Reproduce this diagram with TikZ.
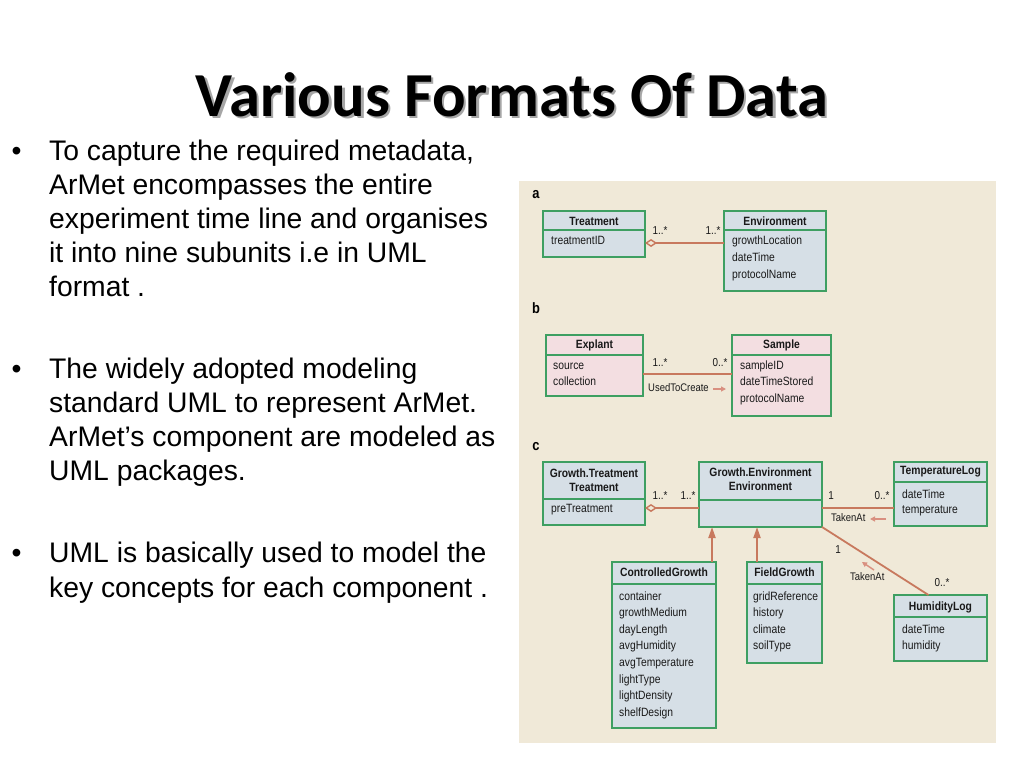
\documentclass[tikz,border=0pt]{standalone}
\usepackage{fontspec}
\setmainfont{Liberation Sans}
\newfontfamily\titlefont{Carlito}
\newfontfamily\dg[FakeStretch=0.86]{Liberation Sans}
\usetikzlibrary{arrows.meta}
\definecolor{bgbeige}{RGB}{240,233,216}
\definecolor{boxblue}{RGB}{214,223,230}
\definecolor{boxpink}{RGB}{243,222,225}
\definecolor{boxgreen}{RGB}{62,159,98}
\definecolor{salmon}{RGB}{200,121,94}
\definecolor{lsalmon}{RGB}{217,144,128}
\definecolor{dtext}{RGB}{25,25,25}
\newcommand{\shadowed}[1]{\makebox[0pt][l]{\hspace{2.5pt}\raisebox{-2.5pt}{\textcolor{black!35}{#1}}}#1}
\tikzset{
  umlbox/.style={draw=boxgreen, line width=1.3pt, inner sep=0pt, outer sep=0pt, anchor=north west},
  divline/.style={draw=boxgreen, line width=1.3pt},
  hdr/.style={font=\dg\bfseries\fontsize{12}{13}\selectfont, inner sep=0pt, text=dtext},
  attr/.style={font=\dg\fontsize{12}{13}\selectfont, inner sep=0pt, anchor=mid west, text=dtext},
  rolelabel/.style={font=\dg\fontsize{11}{13}\selectfont, inner sep=0pt, anchor=mid west, text=dtext},
  mult/.style={font=\dg\fontsize{11.5}{13}\selectfont, inner sep=0pt, text=dtext},
  panel/.style={font=\dg\bfseries\fontsize{15}{16}\selectfont, inner sep=0pt, text=black},
  assoc/.style={draw=salmon, line width=1.8pt},
  aggr/.style={assoc, {Diamond[length=12pt,width=8pt,fill=bgbeige,line width=1.4pt]}-},
  inherit/.style={draw=salmon, line width=2pt, -{Triangle[length=11pt,width=7pt]}},
  dirarrow/.style={draw=lsalmon, line width=1.5pt, -{Triangle[length=5pt,width=5pt]}},
  body/.style={font=\fontsize{28.3}{33.3}\selectfont, inner sep=0pt, anchor=base west, text=black},
}
\begin{document}
\begin{tikzpicture}[x=1pt,y=-1pt]
\useasboundingbox (0,0) rectangle (1024,768);
\fill[white] (0,0) rectangle (1024,768);

% title
\node[font=\titlefont\bfseries\fontsize{62.6}{70}\selectfont, anchor=base, inner sep=0pt] (title) at (512,116) {\shadowed{Various Formats Of Data}};

% bullets
\node[body] (b1) at (11.5,160) {•};
\node[body] (p1a) at (49,160) {To capture the required metadata,};
\node[body] (p1b) at (49,194.2) {ArMet encompasses the entire};
\node[body] (p1c) at (49,228.4) {experiment time line and organises};
\node[body] (p1d) at (49,262.6) {it into nine subunits i.e in UML};
\node[body] (p1e) at (49,296.7) {format .};

\node[body] (b2) at (11.5,378) {•};
\node[body] (p2a) at (49,378) {The widely adopted modeling};
\node[body] (p2b) at (49,412.2) {standard UML to represent ArMet.};
\node[body] (p2c) at (49,446.4) {ArMet’s component are modeled as};
\node[body] (p2d) at (49,480.6) {UML packages.};

\node[body] (b3) at (11.5,562.8) {•};
\node[body] (p3a) at (49,562.8) {UML is basically used to model the};
\node[body] (p3b) at (49,597) {key concepts for each component .};

% diagram background
\fill[bgbeige] (519,181) rectangle (996,743);

% panel labels
\node[panel] (la) at (536,195) {a};
\node[panel] (lb) at (536,308) {b};
\node[panel] (lc) at (536,447) {c};

% ---------- a ----------
\node[umlbox, fill=boxblue, minimum width=102pt, minimum height=46pt] (treat) at (543,211) {};
\draw[divline] (treat.west |- 0,230) -- (treat.east |- 0,230);
\node[hdr] at (594,221) {Treatment};
\node[attr] at (551,242) {treatmentID};

\node[umlbox, fill=boxblue, minimum width=102pt, minimum height=80pt] (env) at (724,211) {};
\draw[divline] (env.west |- 0,230) -- (env.east |- 0,230);
\node[hdr] at (775,221) {Environment};
\node[attr] at (732,242) {growthLocation};
\node[attr] at (732,259) {dateTime};
\node[attr] at (732,276) {protocolName};

\draw[aggr] ([yshift=-9pt]treat.east) -- ([yshift=8pt]env.west);
\node[mult] at (660,231) {1..*};
\node[mult] at (713,231) {1..*};

% ---------- b ----------
\node[umlbox, fill=boxpink, minimum width=97pt, minimum height=61pt] (expl) at (546,335) {};
\draw[divline] (expl.west |- 0,355) -- (expl.east |- 0,355);
\node[hdr] at (594.5,345) {Explant};
\node[attr] at (553,367) {source};
\node[attr] at (553,383) {collection};

\node[umlbox, fill=boxpink, minimum width=99pt, minimum height=81pt] (samp) at (732,335) {};
\draw[divline] (samp.west |- 0,355) -- (samp.east |- 0,355);
\node[hdr] at (781.5,345) {Sample};
\node[attr] at (740,367) {sampleID};
\node[attr] at (740,383) {dateTimeStored};
\node[attr] at (740,400) {protocolName};

\draw[assoc] ([yshift=-8.5pt]expl.east) -- ([yshift=1.5pt]samp.west);
\node[mult] at (660,363) {1..*};
\node[mult] at (720,363) {0..*};
\node[rolelabel] (utc) at (648,389) {UsedToCreate};
\coordinate (utcA) at (713,389);
\coordinate (utcB) at (726,389);
\draw[dirarrow] (utcA) -- (utcB);

% ---------- c ----------
\node[umlbox, fill=boxblue, minimum width=102pt, minimum height=63pt] (gtreat) at (543,462) {};
\draw[divline] (gtreat.west |- 0,499) -- (gtreat.east |- 0,499);
\node[hdr] at (594,473) {Growth.Treatment};
\node[hdr] at (594,487) {Treatment};
\node[attr] at (551,510) {preTreatment};

\node[umlbox, fill=boxblue, minimum width=123pt, minimum height=65pt] (genv) at (699,462) {};
\draw[divline] (genv.west |- 0,500) -- (genv.east |- 0,500);
\node[hdr] at (760.5,472) {Growth.Environment};
\node[hdr] at (760.5,486) {Environment};

\node[umlbox, fill=boxblue, minimum width=93pt, minimum height=64pt] (tlog) at (894,462) {};
\draw[divline] (tlog.west |- 0,482) -- (tlog.east |- 0,482);
\node[hdr] at (940.5,472) {TemperatureLog};
\node[attr] at (902,496) {dateTime};
\node[attr] at (902,511) {temperature};

\node[umlbox, fill=boxblue, minimum width=93pt, minimum height=66pt] (hlog) at (894,595) {};
\draw[divline] (hlog.west |- 0,617) -- (hlog.east |- 0,617);
\node[hdr] at (940.5,607) {HumidityLog};
\node[attr] at (902,631) {dateTime};
\node[attr] at (902,647) {humidity};

\node[umlbox, fill=boxblue, minimum width=104pt, minimum height=166pt] (ctrl) at (612,562) {};
\draw[divline] (ctrl.west |- 0,584) -- (ctrl.east |- 0,584);
\node[hdr] at (664,572) {ControlledGrowth};
\node[attr] at (619,598) {container};
\node[attr] at (619,614) {growthMedium};
\node[attr] at (619,631) {dayLength};
\node[attr] at (619,647) {avgHumidity};
\node[attr] at (619,664) {avgTemperature};
\node[attr] at (619,681) {lightType};
\node[attr] at (619,697) {lightDensity};
\node[attr] at (619,714) {shelfDesign};

\node[umlbox, fill=boxblue, minimum width=75pt, minimum height=101pt] (field) at (747,562) {};
\draw[divline] (field.west |- 0,584) -- (field.east |- 0,584);
\node[hdr] at (784.5,572) {FieldGrowth};
\node[attr] at (753,598) {gridReference};
\node[attr] at (753,614) {history};
\node[attr] at (753,631) {climate};
\node[attr] at (753,647) {soilType};

% connectors c
\draw[aggr] ([yshift=-14.5pt]gtreat.east) -- ([yshift=-13.5pt]genv.west);
\node[mult] at (660,496) {1..*};
\node[mult] at (688,496) {1..*};

\draw[assoc] ([yshift=-13.5pt]genv.east) -- ([yshift=-14pt]tlog.west);
\node[mult] at (831,496) {1};
\node[mult] at (882,496) {0..*};
\node[rolelabel] (ta1) at (831,519) {TakenAt};
\coordinate (ta1A) at (886,519);
\coordinate (ta1B) at (870,519);
\draw[dirarrow] (ta1A) -- (ta1B);

\draw[assoc] (genv.south east) -- ([xshift=-12pt]hlog.north);
\node[mult] at (838,550) {1};
\node[rolelabel] (ta2) at (850,578) {TakenAt};
\node[mult] at (942,583) {0..*};
\coordinate (ta2A) at (874,570);
\coordinate (ta2B) at (862,562);
\draw[dirarrow] (ta2A) -- (ta2B);

\draw[inherit] ([xshift=-4pt]ctrl.north east) -- ([xshift=-4pt]ctrl.north east |- genv.south);
\draw[inherit] ([xshift=10pt]field.north west) -- ([xshift=10pt]field.north west |- genv.south);
\end{tikzpicture}
\end{document}
